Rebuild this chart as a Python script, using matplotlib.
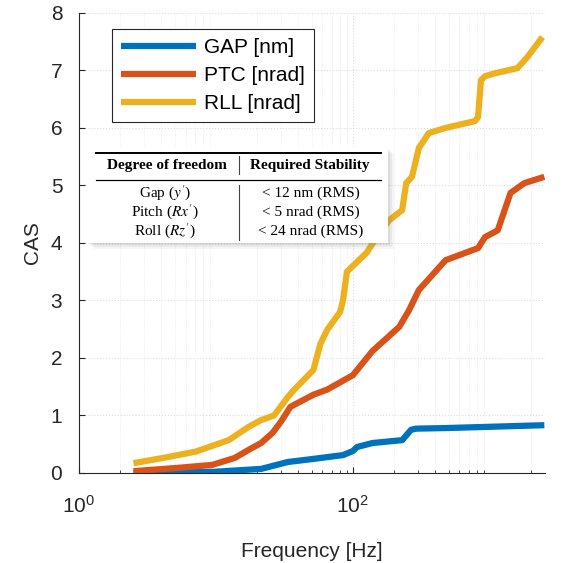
import matplotlib
matplotlib.use("Agg")
import matplotlib.pyplot as plt
from matplotlib.patches import Rectangle
from matplotlib.lines import Line2D

# data (frequency in Hz, cumulative amplitude)
gap_f = [2.5, 9.8, 21.4, 33.5, 50, 84.7, 100, 107, 139, 229, 266, 290, 475, 2500]
gap_y = [0.0, 0.02, 0.07, 0.19, 0.24, 0.31, 0.38, 0.45, 0.52, 0.57, 0.75, 0.77, 0.78, 0.83]

ptc_f = [2.5, 5.4, 9.4, 13.7, 18.2, 21.4, 26, 30, 35, 51.5, 65, 100, 139, 218, 257, 303,
         475, 820, 921, 1142, 1282, 1416, 1786, 2500]
ptc_y = [0.03, 0.09, 0.14, 0.26, 0.43, 0.52, 0.7, 0.9, 1.15, 1.36, 1.45, 1.70, 2.12, 2.54, 2.83, 3.18,
         3.70, 3.91, 4.10, 4.22, 4.57, 4.87, 5.04, 5.15]

rll_f = [2.5, 4.1, 7.1, 12.4, 17.3, 21.4, 26.6, 33.5, 37, 51.5, 58, 65, 80.6, 84.7, 90.5, 100,
         126, 156, 185, 229, 245, 270, 303, 358, 475, 780, 820, 861, 921, 1086, 1590, 1876, 2420]
rll_y = [0.17, 0.26, 0.37, 0.57, 0.80, 0.92, 1.0, 1.32, 1.44, 1.79, 2.25, 2.49, 2.8, 3.0, 3.5, 3.6,
         3.83, 4.17, 4.4, 4.57, 5.04, 5.15, 5.65, 5.91, 6.0, 6.12, 6.19, 6.83, 6.9, 6.95, 7.04, 7.23, 7.58]

labels = ["GAP [nm]", "PTC [nrad]", "RLL [nrad]"]
colors = ["#0072BD", "#D95319", "#EDB120"]

tab_head = ["Degree of freedom", "Required Stability"]
tab_col1 = ["Gap ($y^{\\prime}$)", "Pitch ($Rx^{\\prime}$)", "Roll ($Rz^{\\prime}$)"]
tab_col2 = ["< 12 nm (RMS)", "< 5 nrad (RMS)", "< 24 nrad (RMS)"]

plt.rcParams['font.family'] = ['Liberation Sans', 'DejaVu Sans']
plt.rcParams['mathtext.fontset'] = 'stix'

fig = plt.figure(figsize=(5.64, 5.63), dpi=100)
ax = fig.add_axes([0.140, 0.160, 0.826, 0.817])

for f, y, c, l in zip([gap_f, ptc_f, rll_f], [gap_y, ptc_y, rll_y], colors, labels):
    ax.plot(f, y, color=c, lw=4.5, label=l, solid_capstyle='butt')

ax.set_xscale('log')
ax.set_xlim(1, 2520)
ax.set_ylim(0, 8)
ax.set_xticks([1, 100])
ax.set_yticks(range(9))
ax.grid(True, which='major', color='#dcdcdc', lw=0.8, ls=':')
ax.grid(True, which='minor', axis='x', color='#e8e8e8', lw=0.6, ls=':')
ax.set_axisbelow(True)
for s in ['top', 'right']:
    ax.spines[s].set_visible(False)
for s in ['left', 'bottom']:
    ax.spines[s].set_color('#262626')
ax.tick_params(which='both', direction='in', colors='#262626', labelsize=15, length=4)
ax.tick_params(which='minor', length=2)
ax.tick_params(axis='x', pad=16)
ax.tick_params(axis='y', pad=12)
ax.set_xlabel("Frequency [Hz]", fontsize=15, color='#262626', labelpad=18)
ax.set_ylabel("CAS", fontsize=15, color='#262626', labelpad=6)

leg = ax.legend(loc='upper left', bbox_to_anchor=(0.071, 0.965), borderaxespad=0,
                fontsize=15, handlelength=3.6, fancybox=False, edgecolor='#262626',
                framealpha=1, borderpad=0.45, labelspacing=0.42, handletextpad=0.35)
leg.get_frame().set_linewidth(0.8)

# inset table (figure pixel coords -> fraction)
W, H = 564.0, 563.0
def fx(px):
    return px / W
def fy(py):
    return 1 - py / H

for k, a in [(6, 0.08), (4, 0.10), (2, 0.14)]:
    fig.patches.append(Rectangle((fx(88 + k), fy(243 + k)), fx(388 - 88), (243 - 148) / H,
                                 transform=fig.transFigure, facecolor='gray', alpha=a,
                                 edgecolor='none', zorder=5))
fig.patches.append(Rectangle((fx(88), fy(243)), fx(388 - 88), (243 - 148) / H,
                             transform=fig.transFigure, facecolor='white',
                             edgecolor='none', zorder=6))

for py, lw in [(153, 1.4), (180, 0.9)]:
    fig.add_artist(Line2D([fx(96), fx(381)], [fy(py), fy(py)], color='black', lw=lw, zorder=7))
fig.add_artist(Line2D([fx(239), fx(239)], [fy(156), fy(174)], color='#444444', lw=0.8, zorder=7))
fig.add_artist(Line2D([fx(239), fx(239)], [fy(185), fy(240)], color='#444444', lw=0.8, zorder=7))

serif = ['Liberation Serif', 'DejaVu Serif']
fig.text(fx(167), fy(166), tab_head[0], ha='center', va='center', fontsize=11,
         fontweight='bold', family=serif, zorder=8)
fig.text(fx(310), fy(166), tab_head[1], ha='center', va='center', fontsize=11,
         fontweight='bold', family=serif, zorder=8)
for py, a, b in zip([193, 212, 231], tab_col1, tab_col2):
    fig.text(fx(165), fy(py), a, ha='center', va='center', fontsize=11, family=serif, zorder=8)
    fig.text(fx(311), fy(py), b, ha='center', va='center', fontsize=11, family=serif, zorder=8)

fig.savefig("out.png", dpi=100)
